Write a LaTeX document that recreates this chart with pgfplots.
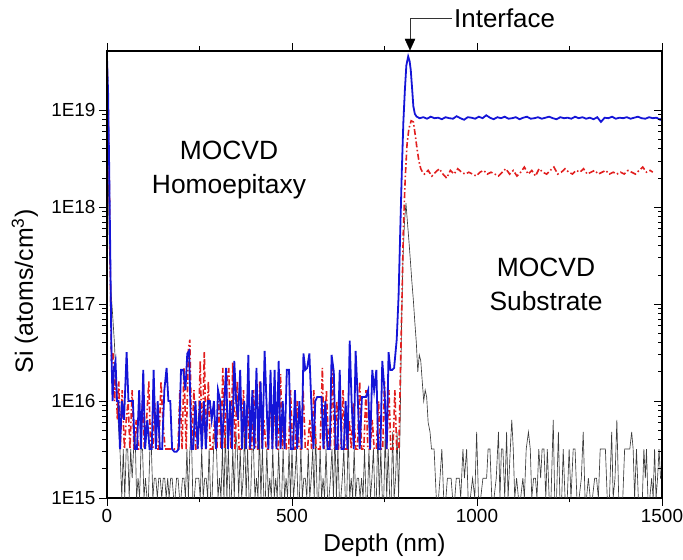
\documentclass[border=0pt]{standalone}
\usepackage{fontspec}
\setmainfont{Liberation Sans}
\usepackage{pgfplots}
\pgfplotsset{compat=1.18}
\usepackage{pgfplotstable}
\usetikzlibrary{arrows.meta}
\definecolor{sblue}{RGB}{20,20,215}
\definecolor{sred}{RGB}{225,30,30}
\definecolor{sblack}{RGB}{60,60,60}

\pgfplotstableread{
x y
0 3.5e19
3 1.5e19
6 2.4e18
9 3e17
12 3.2e16
15 1e16
19 2.2e16
23 2.6e16
27 1e16
31 1e16
35 3.2e15
40 1e16
46 6.4e15
53 3.2e16
58 1e16
64 1e16
70 1e16
75 3.2e15
81 3.2e15
87 1.3e16
92 3.2e15
98 2.1e16
103 3.2e15
109 6.4e15
115 3.2e15
121 3.2e15
126 2.1e16
132 3.2e15
137 1e16
143 3.2e15
149 3.2e15
155 1.3e16
161 2.2e16
166 1e16
171 1e16
176 3.2e15
182 3e15
188 3e15
194 3.2e15
200 2.1e16
206 2.1e16
212 1.3e16
217 3.1e16
222 3.3e16
228 3.2e15
233 3.2e15
239 1e16
245 3.2e15
251 1e16
256 3.2e15
262 1e16
267 3.2e15
273 1e16
278 1e16
283 6.4e15
289 1e16
295 3.2e15
300 1.3e16
306 1e16
311 3.2e15
317 1e16
322 2.2e16
327 3.2e15
333 1e16
338 3.2e15
344 2.6e16
349 1e16
354 6.4e15
360 2.1e16
365 3.2e15
371 1e16
376 3.2e15
382 3e16
387 3.2e15
393 1.3e16
398 3.2e15
404 2.2e16
409 3.2e15
415 1.6e16
420 3.2e15
426 3.3e16
431 1e16
436 3.2e15
442 2.1e16
447 3.2e15
453 2.1e16
458 3.2e15
464 2.6e16
469 3.2e15
475 1e16
480 3.2e15
486 2.1e16
492 2.1e16
497 3.2e15
503 3.2e15
508 1.3e16
514 3.2e15
520 1e16
526 3.2e15
531 3.1e16
536 2.1e16
541 2.2e16
547 3.1e16
552 1e16
558 3.2e15
563 1e16
568 1.1e16
574 1.1e16
580 1.1e16
585 3.2e15
590 1e16
596 3.2e15
602 3.2e15
607 3e16
613 2e16
618 3.2e15
623 3.2e15
629 2.1e16
634 3.2e15
640 3.2e15
645 1e16
650 3.2e15
656 4.2e16
661 1e16
667 3.2e15
672 3.3e16
678 1e16
683 3.2e15
689 1.1e16
695 1.1e16
700 1.1e16
706 1.3e16
711 3.2e15
717 2.1e16
722 1.3e16
728 2.1e16
733 3.2e15
739 3.2e15
744 2.6e16
750 1.3e16
756 3.2e15
761 3.2e16
766 2.1e16
771 2.1e16
776 2.2e16
783 4.3e16
788 1.2e17
792 4.7e17
797 2.5e18
801 7.6e18
805 1.6e19
809 2.9e19
814 3.6e19
818 3.2e19
821 2.6e19
825 1.6e19
828 1.1e19
832 9.2e18
837 8.6e18
845 8.3e18
855 8.5e18
865 8.2e18
875 8.6e18
885 8.3e18
895 8.4e18
905 8.1e18
915 8.5e18
925 8.3e18
935 8.2e18
945 8.7e18
955 8.3e18
965 8.0e18
975 8.5e18
985 8.4e18
995 8.2e18
1005 8.6e18
1015 8.3e18
1025 8.9e18
1035 8.4e18
1045 8.1e18
1055 8.5e18
1065 8.3e18
1075 8.6e18
1085 8.2e18
1095 8.3e18
1105 8.5e18
1115 8.1e18
1125 8.4e18
1135 8.6e18
1145 8.2e18
1155 8.3e18
1165 8.5e18
1175 8.2e18
1185 8.4e18
1195 8.6e18
1205 8.3e18
1215 8.1e18
1225 8.5e18
1235 8.3e18
1245 8.4e18
1255 8.2e18
1265 8.6e18
1275 8.3e18
1285 8.5e18
1295 8.2e18
1305 8.4e18
1315 8.1e18
1325 8.5e18
1335 7.6e18
1345 8.4e18
1355 8.3e18
1365 8.6e18
1375 8.2e18
1385 8.4e18
1395 8.3e18
1405 8.5e18
1415 8.2e18
1425 8.4e18
1435 8.6e18
1445 8.3e18
1455 8.2e18
1465 8.5e18
1475 8.3e18
1485 8.4e18
1495 8.0e18
1500 8.3e18
}\bluedata

\pgfplotstableread{
x y
0 3.4e19
3 1.2e19
6 2e18
9 2e17
12 2.6e16
16 3.2e16
20 1e16
24 2e16
28 6.4e15
32 1.6e16
36 3.2e15
41 1.3e16
47 3.2e15
52 6.4e15
57 1e16
62 3.2e15
68 1.3e16
73 3.2e15
79 6.4e15
85 3.2e15
90 3.2e15
96 1e16
101 3.2e15
107 6.4e15
113 1.6e16
118 3.2e15
124 3.2e15
129 9.6e15
135 3.2e15
140 3.2e15
146 1.6e16
151 6.4e15
157 3.2e15
163 3.2e15
168 3.2e15
174 3.2e15
180 3.2e15
186 3.2e15
192 3.2e15
197 1.3e16
203 3.2e15
208 2.2e16
214 3.2e15
220 3.5e16
224 4.3e16
229 3.2e15
235 1.3e16
240 3.2e15
246 3.2e15
252 2.6e16
257 3.2e15
263 3.2e16
268 3.2e15
274 1.6e16
279 3.2e15
285 3.2e15
291 6.4e15
297 3.2e15
302 1e16
308 3.2e15
313 2.2e16
318 3.2e15
324 1.6e16
329 2.2e16
335 3.2e15
340 2.5e16
346 3.2e15
352 1.6e16
357 3.2e15
363 3.2e15
369 1.3e16
374 3.2e15
380 9.6e15
385 3.2e15
391 3.2e15
396 1.3e16
402 3.2e15
408 3.2e15
413 1.6e16
419 3.2e15
424 6.4e15
430 3.2e15
436 3.2e15
441 1.3e16
447 3.2e15
452 9.6e15
458 3.2e15
463 3.2e15
469 1.9e16
474 3.2e15
480 6.4e15
485 3.2e15
491 3.2e15
496 1.3e16
502 3.2e15
508 3.2e15
514 1e16
519 3.2e15
525 3.2e15
530 1.3e16
536 3.2e15
542 3.2e15
548 6.4e15
553 3.2e15
559 1.3e16
565 3.2e15
570 3.2e15
576 3.2e15
582 2.2e16
587 3.2e15
593 1.3e16
599 3.2e15
604 3.2e15
610 2.2e16
615 3.2e15
621 1e16
626 3.2e15
632 3.2e15
638 1.3e16
643 3.2e15
649 3.2e15
655 6.4e15
660 3.2e15
666 9.6e15
672 3.2e15
677 3.2e15
683 1.6e16
688 3.2e15
694 3.2e15
700 1.3e16
705 3.2e15
711 3.2e15
717 6.4e15
722 3.2e15
728 3.2e15
734 1e16
739 3.2e15
745 3.2e15
750 1.6e16
756 3.2e15
762 1.3e16
767 3.2e15
773 3.2e15
778 1.3e16
783 3.2e15
789 3.2e15
793 2e16
797 1e17
801 6e17
806 2e18
811 4.5e18
816 6.5e18
822 7.8e18
828 7.6e18
833 5.6e18
838 4e18
843 3e18
848 2.5e18
853 2.3e18
858 2.2e18
868 2.4e18
878 2.1e18
888 2.3e18
898 2.5e18
908 2.2e18
918 2.0e18
928 2.4e18
938 2.2e18
948 2.5e18
958 2.3e18
968 2.2e18
978 2.3e18
988 2.2e18
998 2.1e18
1008 2.3e18
1018 2.4e18
1028 2.2e18
1038 2.3e18
1048 2.2e18
1058 2.1e18
1068 2.3e18
1078 2.5e18
1088 2.2e18
1098 2.4e18
1108 2.1e18
1118 2.3e18
1128 2.6e18
1138 2.2e18
1148 2.4e18
1158 2.1e18
1168 2.5e18
1178 2.3e18
1188 2.2e18
1198 2.4e18
1208 2.6e18
1218 2.2e18
1228 2.3e18
1238 2.5e18
1248 2.3e18
1258 2.2e18
1268 2.4e18
1278 2.3e18
1288 2.5e18
1298 2.2e18
1308 2.3e18
1318 2.4e18
1328 2.2e18
1338 2.3e18
1348 2.4e18
1358 2.2e18
1368 2.3e18
1378 2.2e18
1388 2.3e18
1398 2.2e18
1408 2.4e18
1418 2.3e18
1428 2.2e18
1438 2.4e18
1448 2.6e18
1458 2.3e18
1468 2.4e18
1475 2.3e18
}\reddata

\pgfplotstableread{
x y
0 3e19
3 3e18
6 4e17
10 1.5e17
15 8e16
20 4e16
25 1.5e16
30 6.4e15
35 3.2e15
40 1e15
44 3.2e15
48 1e15
52 3.2e15
56 3.2e15
60 1e15
64 3.2e15
68 1.6e15
72 3.2e15
76 4.8e15
80 1e15
84 1.6e15
88 1e15
92 3.2e15
96 3.2e15
100 1e15
104 1.6e15
108 1e15
112 1e15
116 3.2e15
120 3.2e15
124 1e15
128 1.6e15
132 1.6e15
136 1e15
140 1.6e15
144 1.6e15
148 1e15
152 1.6e15
156 1.6e15
160 1e15
164 1.6e15
168 1e15
172 1.6e15
176 1.6e15
180 1e15
184 1e15
188 1.6e15
192 1.6e15
196 1e15
200 1e15
204 1.6e15
208 1.6e15
212 1e15
216 3.2e15
220 1e15
224 3.2e15
228 4.8e15
232 1e15
236 1e15
240 1.6e15
244 1.6e15
248 1.6e15
252 1e15
256 3.2e15
260 1e15
264 1.6e15
268 1.6e15
272 1e15
276 3.2e15
280 1e15
284 1e15
288 3.2e15
292 4.8e15
296 3.2e15
300 1e15
304 1.6e15
308 1e15
312 3.2e15
316 1e15
320 4.8e15
324 1e15
328 3.2e15
332 1e15
336 1e15
340 3.2e15
344 1e15
348 4.8e15
352 3.2e15
356 1e15
360 3.2e15
364 1e15
368 1.6e15
372 4.8e15
376 1e15
380 3.2e15
384 1e15
388 1e15
392 3.2e15
396 3.2e15
400 1e15
404 1.6e15
408 1e15
412 4.8e15
416 1e15
420 3.2e15
424 1e15
428 1e15
432 3.2e15
436 1e15
440 1.6e15
444 1e15
448 3.2e15
452 1e15
456 1.6e15
460 1e15
464 3.2e15
468 1e15
472 1e15
476 3.2e15
480 1e15
484 1.6e15
488 1e15
492 3.2e15
496 1e15
500 3.2e15
504 1e15
508 1.6e15
512 3.2e15
516 1e15
520 1e15
524 3.2e15
528 1e15
532 1.6e15
536 1.6e15
540 1e15
544 3.2e15
548 1e15
552 1.6e15
556 3.2e15
560 1e15
564 4.8e15
568 1e15
572 1e15
576 3.2e15
580 1e15
584 1.6e15
588 1e15
592 3.2e15
596 1e15
600 1e15
604 1.6e15
608 3.2e15
612 1e15
616 4.8e15
620 1e15
624 3.2e15
628 1e15
632 1e15
636 1.6e15
640 3.2e15
644 1e15
648 1e15
652 4.8e15
656 1e15
660 1.6e15
664 1e15
668 3.2e15
672 1e15
676 1.6e15
680 1.6e15
684 1e15
688 1.6e15
692 1e15
696 3.2e15
700 1e15
704 1e15
708 3.2e15
712 1e15
716 1.6e15
720 3.2e15
724 1e15
728 1e15
732 4.8e15
736 1e15
740 3.2e15
744 1e15
748 1e15
752 4.8e15
756 1e15
760 3.2e15
764 1e15
768 1e15
772 4.8e15
776 1e15
780 1.6e15
784 4.8e15
788 1e15
792 5e15
796 6e16
800 3e17
804 7e17
808 1.1e18
812 7e17
816 4.5e17
820 2.8e17
824 1.7e17
828 1.1e17
832 6.5e16
836 4e16
840 2e16
844 3e16
848 2.6e16
852 1.6e16
856 1e16
860 1.3e16
864 1.1e16
868 6e15
873 4.8e15
877 3.2e15
884 3.2e15
890 1e15
896 1e15
900 1.6e15
905 3.2e15
910 1e15
916 1e15
920 1.6e15
924 1.6e15
930 1.6e15
934 1e15
940 1e15
944 1.6e15
948 1.6e15
952 1.6e15
956 1e15
962 3.2e15
966 1.6e15
972 3.2e15
976 1e15
982 1e15
988 1.6e15
994 1e15
999 4.8e15
1004 1e15
1010 1e15
1016 1.6e15
1020 1.6e15
1026 1.6e15
1030 3.2e15
1035 3.2e15
1040 1e15
1046 1e15
1052 1.6e15
1058 4.8e15
1062 1e15
1066 3.2e15
1070 3.2e15
1075 1e15
1080 4.8e15
1084 1e15
1090 3.2e15
1094 6.4e15
1098 3.2e15
1102 1e15
1107 1.6e15
1112 1e15
1118 1e15
1124 1.6e15
1128 1e15
1133 3.2e15
1139 4.8e15
1144 3.2e15
1148 1e15
1153 1.6e15
1158 1.6e15
1162 1e15
1167 3.2e15
1172 1.6e15
1176 3.2e15
1181 3.2e15
1186 1e15
1190 3.2e15
1195 1e15
1200 1e15
1206 6.4e15
1210 1e15
1215 1e15
1220 4.8e15
1224 1e15
1229 1e15
1233 3.2e15
1238 1e15
1244 1e15
1249 3.2e15
1254 1e15
1260 3.2e15
1265 3.2e15
1270 1e15
1276 1e15
1282 1.6e15
1287 4.8e15
1292 1e15
1296 1e15
1301 1.6e15
1306 1e15
1312 1e15
1318 1.6e15
1323 1.6e15
1328 1e15
1333 3.2e15
1337 3.2e15
1342 3.2e15
1347 3.2e15
1352 1e15
1358 1e15
1364 4.8e15
1368 1e15
1373 1.6e15
1378 6.4e15
1383 1e15
1388 1e15
1394 1e15
1399 3.2e15
1404 3.2e15
1409 3.2e15
1413 3.2e15
1418 4.8e15
1422 3.2e15
1426 1e15
1431 3.2e15
1436 1e15
1442 1e15
1447 1e15
1451 3.2e15
1455 1.6e15
1458 3.2e15
1462 1e15
1467 1e15
1472 1.6e15
1476 1e15
1480 3.2e15
1484 1e15
1488 1.6e15
1492 3.2e15
1496 1.6e15
1500 1.6e15
}\blackdata

\begin{document}
\begin{tikzpicture}
\useasboundingbox (-107bp,-62bp) rectangle (576bp,498bp);
\begin{axis}[
  at={(0,0)}, anchor=south west,
  scale only axis, width=555bp, height=447bp,
  xmin=0, xmax=1500, ymin=1e15, ymax=4.1e19,
  ymode=log,
  axis line style={line width=1.1bp, black},
  major tick length=8bp, minor tick length=4.5bp,
  every tick/.style={line width=0.9bp, black},
  tick label style={font=\fontsize{19}{22}\selectfont},
  tick align=outside,
  xtick pos=both, ytick pos=left,
  xticklabel pos=lower,
  xtick={0,500,1000,1500},
  xticklabels={0,500,1000,1500},
  minor xtick={250,750,1250},
  ytick={1e15,1e16,1e17,1e18,1e19},
  yticklabels={1E15,1E16,1E17,1E18,1E19},
  xlabel={Depth (nm)},
  ylabel={Si (atoms/cm\textsuperscript{3})},
  xlabel style={font=\fontsize{24.5}{28}\selectfont, at={(axis description cs:0.5,-0.105)}, anchor=center},
  ylabel style={font=\fontsize{25}{28}\selectfont, at={(axis description cs:-0.148,0.462)}, anchor=center},
  clip=true,
]
\addplot[sblack, line width=0.65bp] table[x=x,y=y] {\blackdata};
\addplot[sred, line width=1.6bp, dash pattern=on 6bp off 2.5bp on 1.5bp off 2.5bp] table[x=x,y=y] {\reddata};
\addplot[sblue, line width=1.8bp] table[x=x,y=y] {\bluedata};
\end{axis}
\begin{axis}[
  at={(0,0)}, anchor=south west,
  scale only axis, width=555bp, height=447bp,
  xmin=0, xmax=1500, ymin=1e15, ymax=4.1e19,
  ymode=log,
  axis line style={line width=1.1bp, black},
  major tick length=8bp, minor tick length=4.5bp,
  every tick/.style={line width=0.9bp, black},
  hide x axis,
  tick align=inside,
  ytick pos=right,
  ytick={1e15,1e16,1e17,1e18,1e19},
  yticklabels={},
]
\addplot[draw=none] coordinates {(0,1e16)};
\end{axis}
\node[align=center, font=\fontsize{26.5}{34}\selectfont] at (122bp,328bp) {MOCVD\\Homoepitaxy};
\node[align=center, font=\fontsize{26.5}{34}\selectfont] at (439bp,214bp) {MOCVD\\Substrate};
\draw[line width=0.8bp, black!80] (345bp,480bp) -- (303bp,480bp) -- (303bp,458bp);
\draw[fill=black, draw=black] (298bp,459bp) -- (308bp,459bp) -- (303bp,448bp) -- cycle;
\node[anchor=west, font=\fontsize{26}{30}\selectfont, inner sep=0pt] at (347bp,480bp) {Interface};
\end{tikzpicture}
\end{document}
